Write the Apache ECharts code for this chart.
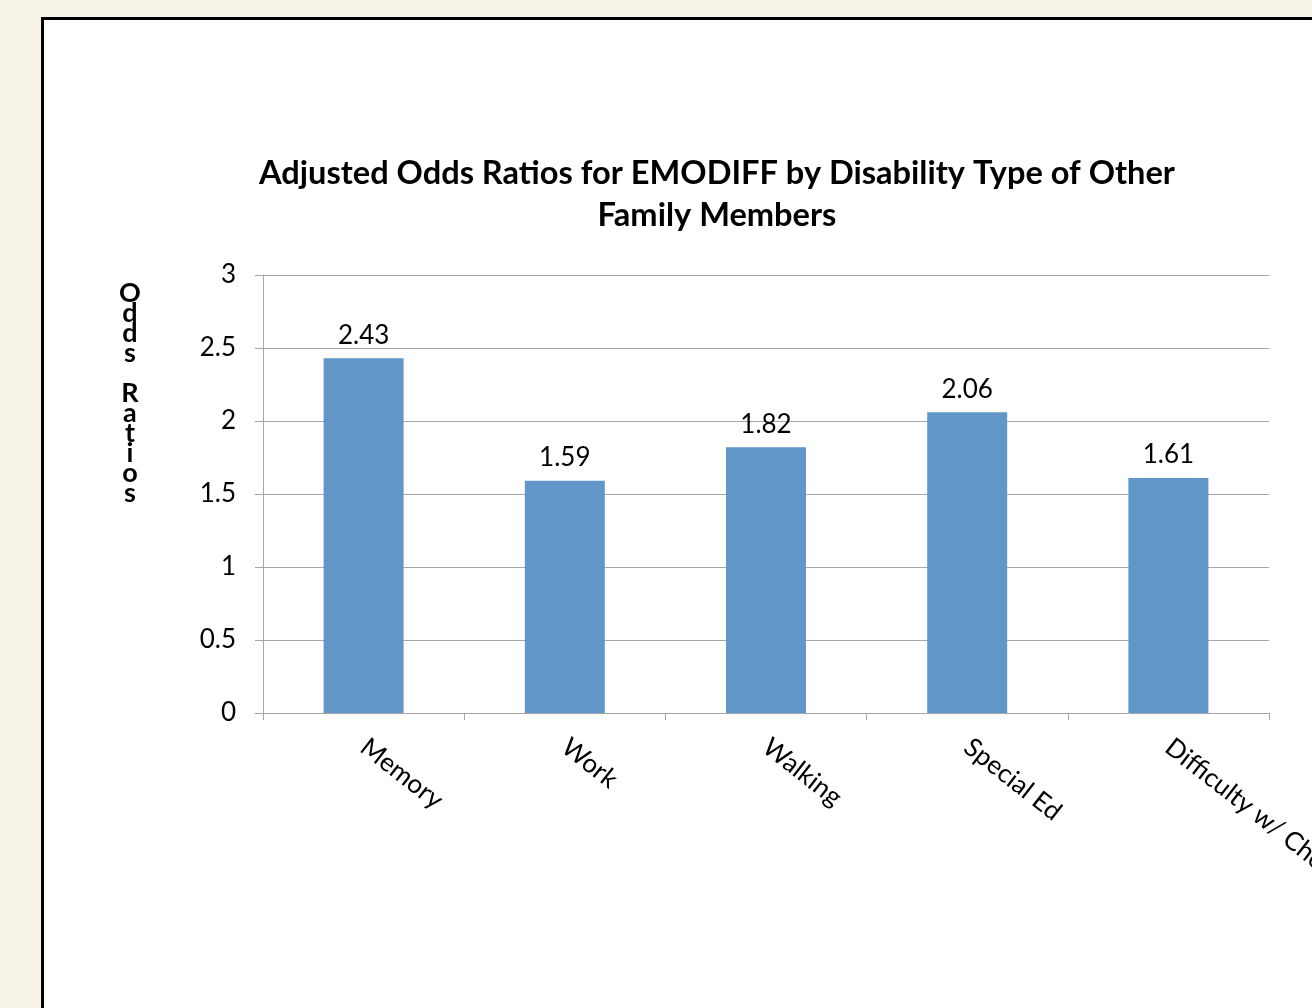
<!DOCTYPE html>
<html>
<head>
<meta charset="utf-8">
<script src="https://cdn.jsdelivr.net/npm/echarts@6/dist/echarts.min.js"></script>
<style>
html,body{margin:0;padding:0;background:#f6f2e6;width:1312px;height:1008px;overflow:hidden;}
#box{position:absolute;left:41px;top:17px;width:1400px;height:1100px;border:3px solid #000;background:#fff;box-sizing:border-box;}
#chart{position:absolute;left:0;top:0;width:1312px;height:1008px;}
</style>
</head>
<body>
<div id="box"></div>
<div id="chart"></div>
<script>
const categories = ['Memory', 'Work', 'Walking', 'Special Ed', 'Difficulty w/ Chores'];
const oddsRatios = [2.43, 1.59, 1.82, 2.06, 1.61];
const yTicks = [0, 0.5, 1, 1.5, 2, 2.5, 3];
const titleText = 'Adjusted Odds Ratios for EMODIFF by Disability Type of Other\nFamily Members';
const yAxisTitle = 'Odds Ratios';

const FONT = 'Lato, "Noto Sans", sans-serif';
const chart = echarts.init(document.getElementById('chart'), null, {renderer: 'canvas'});
chart.setOption({
  animation: false,
  backgroundColor: 'transparent',
  title: {
    text: titleText,
    left: 712, top: 147, textAlign: 'center',
    textStyle: {fontFamily: FONT, fontWeight: 'bold', fontSize: 32.6, lineHeight: 42, color: '#000'}
  },
  graphic: [{
    type: 'text', left: 119, top: 280,
    style: {
      text: yAxisTitle.split('').join('\n'),
      font: 'bold 27px ' + FONT, lineHeight: 20, fill: '#000', textAlign: 'center'
    }
  }],
  grid: {left: 263, right: 43, top: 275, bottom: 295, containLabel: false, outerBoundsMode: 'none'},
  xAxis: {
    type: 'category', data: categories,
    axisLine: {lineStyle: {color: '#a6a6a6', width: 1}},
    axisTick: {show: true, length: 7, lineStyle: {color: '#a6a6a6'}},
    axisLabel: {rotate: -38, margin: 31, fontFamily: FONT, fontSize: 26, color: '#000'}
  },
  yAxis: {
    type: 'value', min: yTicks[0], max: yTicks[yTicks.length - 1], interval: 0.5,
    axisLine: {show: true, lineStyle: {color: '#a6a6a6'}},
    axisTick: {show: true, length: 8, lineStyle: {color: '#a6a6a6'}},
    splitLine: {lineStyle: {color: '#a6a6a6'}},
    axisLabel: {margin: 27, fontFamily: FONT, fontSize: 26, color: '#000'}
  },
  series: [{
    type: 'bar', data: oddsRatios, barWidth: 80,
    itemStyle: {color: '#6096c8'},
    label: {show: true, position: 'top', distance: 10, fontFamily: FONT, fontSize: 26, color: '#000',
      formatter: p => p.value.toFixed(2)}
  }]
});
</script>
</body>
</html>
